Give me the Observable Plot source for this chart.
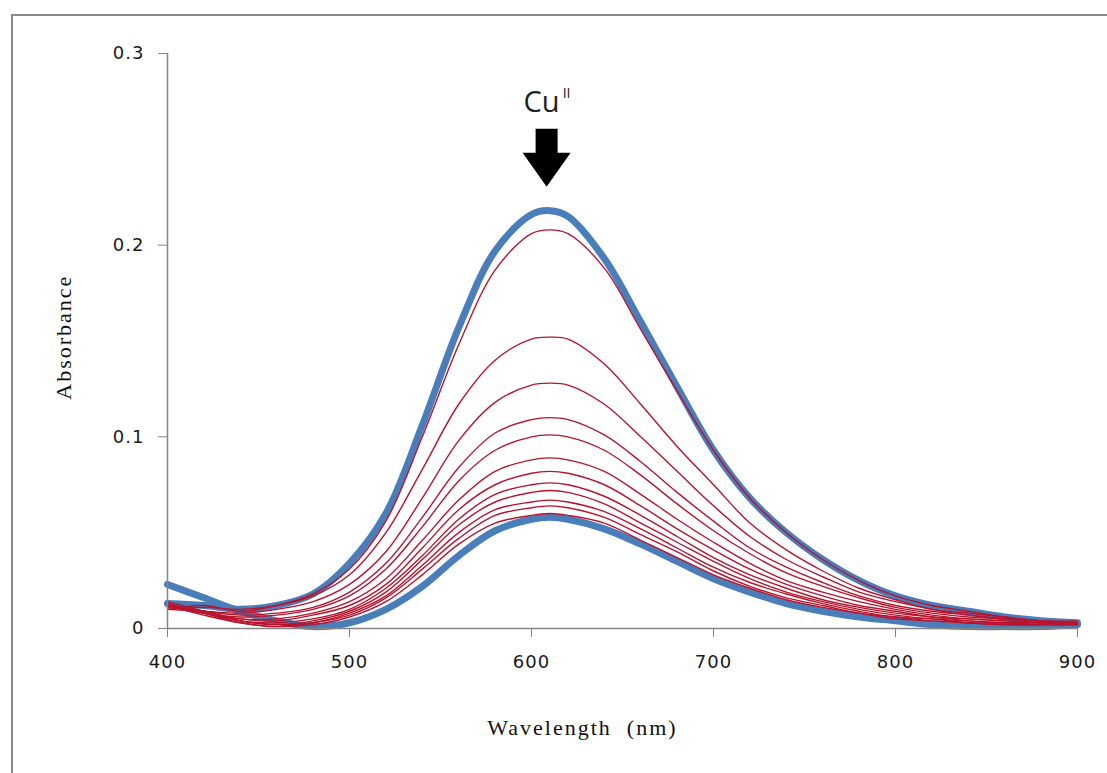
<!DOCTYPE html>
<html>
<head>
<meta charset="utf-8">
<script src="https://cdn.jsdelivr.net/npm/d3@7"></script>
<script src="https://cdn.jsdelivr.net/npm/@observablehq/plot@0.6"></script>
<style>
  html, body { margin: 0; padding: 0; background: #fff; overflow: hidden; }
  #wrap { position: relative; width: 1107px; height: 773px; }
  #border { position: absolute; left: 11px; top: 14px; width: 1200px; height: 900px;
            border-left: 2px solid #8a8a8a; border-top: 2px solid #8a8a8a; pointer-events: none; }
</style>
</head>
<body>
<div id="wrap"><div id="border"></div></div>
<script>
// Wavelengths (nm) at which the spectra were read
const wavelengths = [400,420,440,460,480,500,520,540,560,580,600,610,620,640,660,680,700,720,740,760,780,800,820,840,860,880,900];

// Initial spectrum (thick blue, top)
const blueTop = [0.013,0.012,0.010,0.012,0.018,0.034,0.060,0.106,0.157,0.197,0.216,0.218,0.215,0.193,0.160,0.126,0.093,0.068,0.050,0.036,0.025,0.017,0.012,0.009,0.006,0.004,0.003];
// Final spectrum (thick blue, bottom)
const blueBottom = [0.023,0.016,0.009,0.004,0.001,0.003,0.010,0.022,0.038,0.051,0.057,0.058,0.057,0.052,0.044,0.035,0.026,0.019,0.013,0.009,0.006,0.004,0.002,0.001,0.001,0.001,0.002];

// Intermediate spectra (red)
const red01 = [0.010,0.012,0.009,0.012,0.018,0.031,0.056,0.100,0.148,0.187,0.206,0.208,0.206,0.188,0.156,0.124,0.093,0.068,0.050,0.036,0.025,0.017,0.012,0.009,0.006,0.004,0.004];
const red02 = [0.010,0.011,0.010,0.012,0.017,0.028,0.050,0.083,0.117,0.140,0.151,0.152,0.151,0.138,0.117,0.095,0.075,0.055,0.041,0.030,0.021,0.015,0.010,0.008,0.006,0.004,0.003];
const red03 = [0.010,0.009,0.008,0.010,0.014,0.023,0.040,0.068,0.098,0.118,0.127,0.128,0.127,0.117,0.100,0.082,0.064,0.048,0.036,0.027,0.019,0.014,0.010,0.007,0.005,0.004,0.003];
const red04 = [0.011,0.009,0.007,0.008,0.011,0.019,0.034,0.058,0.084,0.102,0.109,0.110,0.109,0.101,0.087,0.071,0.056,0.042,0.032,0.024,0.017,0.012,0.009,0.007,0.005,0.004,0.003];
const red05 = [0.012,0.008,0.006,0.007,0.010,0.017,0.031,0.053,0.077,0.093,0.100,0.101,0.100,0.093,0.080,0.065,0.051,0.039,0.029,0.022,0.016,0.011,0.008,0.006,0.005,0.004,0.003];
const red06 = [0.013,0.008,0.005,0.005,0.008,0.014,0.026,0.046,0.067,0.082,0.088,0.089,0.088,0.082,0.070,0.057,0.045,0.034,0.025,0.019,0.014,0.010,0.007,0.005,0.004,0.003,0.003];
const red07 = [0.012,0.009,0.005,0.004,0.007,0.012,0.023,0.042,0.062,0.075,0.081,0.082,0.081,0.075,0.064,0.052,0.041,0.031,0.023,0.017,0.012,0.009,0.006,0.005,0.004,0.003,0.003];
const red08 = [0.013,0.008,0.004,0.003,0.005,0.010,0.021,0.038,0.057,0.070,0.075,0.076,0.075,0.069,0.059,0.048,0.037,0.028,0.021,0.015,0.011,0.008,0.006,0.004,0.003,0.003,0.002];
const red09 = [0.014,0.009,0.004,0.002,0.004,0.009,0.019,0.036,0.054,0.066,0.071,0.072,0.071,0.065,0.055,0.045,0.035,0.026,0.019,0.014,0.010,0.007,0.005,0.004,0.003,0.003,0.002];
const red10 = [0.013,0.008,0.004,0.002,0.003,0.008,0.017,0.033,0.050,0.062,0.066,0.067,0.066,0.061,0.052,0.042,0.032,0.024,0.018,0.013,0.009,0.006,0.005,0.003,0.003,0.002,0.002];
const red11 = [0.012,0.007,0.003,0.001,0.003,0.007,0.016,0.031,0.047,0.059,0.063,0.064,0.063,0.058,0.049,0.040,0.030,0.022,0.016,0.012,0.008,0.006,0.004,0.003,0.002,0.002,0.002];
const red12 = [0.013,0.008,0.003,0.001,0.002,0.006,0.014,0.028,0.044,0.055,0.059,0.060,0.059,0.055,0.046,0.037,0.028,0.021,0.015,0.011,0.008,0.005,0.004,0.003,0.002,0.002,0.002];

// Axis ticks and titles
const xTicks = [400,500,600,700,800,900];
const yTicks = [0,0.1,0.2,0.3];
const yTickLabels = ["0","0.1","0.2","0.3"];
const xTitle = "Wavelength  (nm)";
const yTitle = "Absorbance";
const annotation = {label: "Cu", sup: "II", x: 608.3, yTip: 0.2305, yLabel: 0.2745};

// Build tables
const blueSeries = {blueTop, blueBottom};
const redSeries = {red01,red02,red03,red04,red05,red06,red07,red08,red09,red10,red11,red12};
const toRows = (obj) => Object.entries(obj).flatMap(([name, vals]) =>
  vals.map((v, i) => ({series: name, wl: wavelengths[i], a: v})));
const blueRows = toRows(blueSeries);
const redRows = toRows(redSeries);

// Custom arrow symbol (tip at the anchor point)
const arrowSymbol = {
  draw(ctx) {
    ctx.moveTo(0, 0);
    ctx.lineTo(-24, -34);
    ctx.lineTo(-11, -34);
    ctx.lineTo(-11, -58);
    ctx.lineTo(11, -58);
    ctx.lineTo(11, -34);
    ctx.lineTo(24, -34);
    ctx.closePath();
  }
};

const axisColor = "#858585";
const tickFont = "DejaVu Sans";

const chart = Plot.plot({
  width: 1107,
  height: 773,
  marginLeft: 167,
  marginRight: 30,
  marginTop: 53,
  marginBottom: 145,
  style: {background: "transparent", color: "#1a1a1a", fontFamily: tickFont},
  x: {domain: [400, 900]},
  y: {domain: [0, 0.3]},
  marks: [
    Plot.lineY(blueRows, {x: "wl", y: "a", z: "series", stroke: "#4a7ebb", strokeWidth: 7, curve: "catmull-rom", strokeLinejoin: "round"}),
    Plot.lineY(redRows, {x: "wl", y: "a", z: "series", stroke: "#b8142e", strokeWidth: 1.4, curve: "catmull-rom"}),
    Plot.ruleX([400], {stroke: axisColor, strokeWidth: 1.5}),
    Plot.ruleY([0], {stroke: axisColor, strokeWidth: 1.5}),
    Plot.axisY({ticks: yTicks, tickFormat: (d) => yTickLabels[yTicks.indexOf(d)], tickSize: 9, tickPadding: 14,
                label: null, stroke: axisColor, fontSize: 18, fill: "#1a1a1a"}),
    Plot.axisX({ticks: xTicks, tickFormat: d => String(d), tickSize: 9, tickPadding: 18,
                label: null, stroke: axisColor, fontSize: 18, fill: "#1a1a1a"}),
    Plot.text([xTitle], {x: () => 628, y: () => 0, text: d => d, dy: 99, fontFamily: "Liberation Serif", fontSize: 22, fill: "#111"}),
    Plot.text([yTitle], {x: () => 400, y: () => 0.152, text: d => d, dx: -104, rotate: -90, fontFamily: "Liberation Serif", fontSize: 22, fill: "#111"}),
    Plot.text([annotation], {x: "x", y: "yLabel", text: "label", dx: -5, fontFamily: "Open Sans", fontSize: 29, fill: "#222"}),
    Plot.text([annotation], {x: "x", y: "yLabel", text: "sup", dx: 20, dy: -9, fontFamily: "Open Sans", fontSize: 14, fill: "#222"}),
    Plot.dot([annotation], {x: "x", y: "yTip", symbol: arrowSymbol, r: 5, fill: "#000", stroke: "none"})
  ]
});

// letter spacing for the wide-looking titles and tick labels
d3.select(chart).selectAll("text").each(function() {
  const t = this.textContent;
  if (t === xTitle || t === yTitle) this.setAttribute("letter-spacing", "2px");
});
d3.select(chart).selectAll("g[aria-label='x-axis tick label'] text, g[aria-label='y-axis tick label'] text")
  .attr("letter-spacing", "1px");

document.getElementById("wrap").prepend(chart);
chart.style.position = "absolute";
chart.style.left = "0px";
chart.style.top = "0px";
</script>
</body>
</html>
